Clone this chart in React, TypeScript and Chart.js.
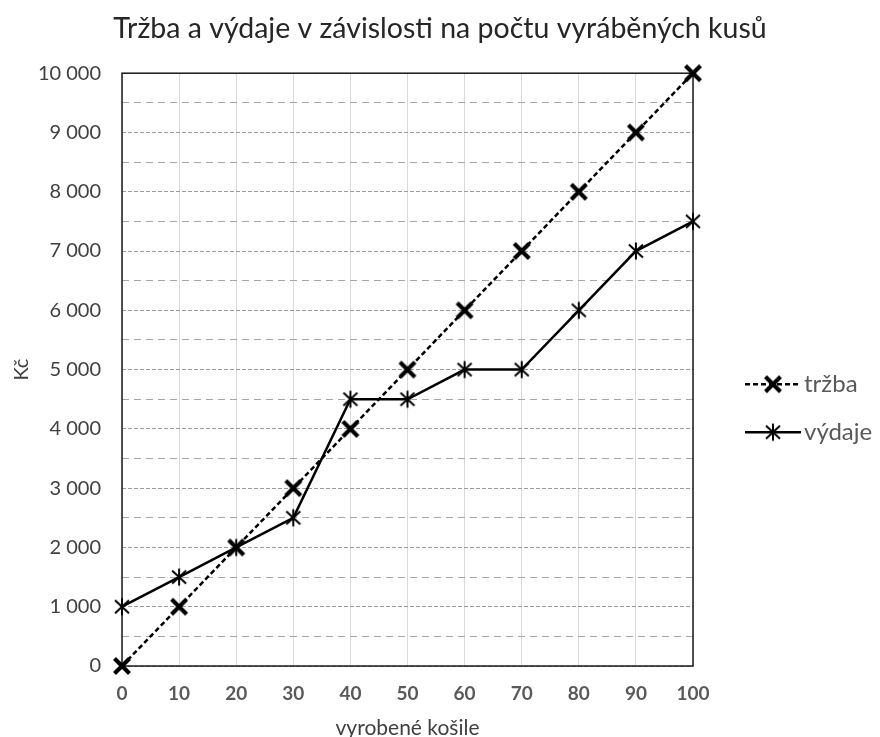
import React, { useEffect, useRef } from "react";
import { Chart, registerables } from "chart.js";

Chart.register(...registerables);

const categories = ["0", "10", "20", "30", "40", "50", "60", "70", "80", "90", "100"];
const trzba = [0, 1000, 2000, 3000, 4000, 5000, 6000, 7000, 8000, 9000, 10000];
const vydaje = [1000, 1500, 2000, 2500, 4500, 4500, 5000, 5000, 6000, 7000, 7500];
const titleText = "Tržba a výdaje v závislosti na počtu vyráběných kusů";
const xTitle = "vyrobené košile";
const yTitle = "Kč";
const seriesNames = ["tržba", "výdaje"];

const FONT = "Lato, 'Open Sans', sans-serif";

function fmt(v: number): string {
  const s = String(Math.round(v));
  return s.replace(/\B(?=(\d{3})+(?!\d))/g, " ");
}

function makeCross(): HTMLCanvasElement {
  const c = document.createElement("canvas");
  c.width = 22;
  c.height = 22;
  const g = c.getContext("2d")!;
  g.strokeStyle = "#000";
  g.lineWidth = 4.2;
  g.beginPath();
  g.moveTo(3.5, 3.5);
  g.lineTo(18.5, 18.5);
  g.moveTo(18.5, 3.5);
  g.lineTo(3.5, 18.5);
  g.stroke();
  return c;
}

function makeStar(): HTMLCanvasElement {
  const c = document.createElement("canvas");
  c.width = 22;
  c.height = 22;
  const g = c.getContext("2d")!;
  g.strokeStyle = "#000";
  g.lineWidth = 2;
  g.beginPath();
  g.moveTo(11, 2.5);
  g.lineTo(11, 19.5);
  g.moveTo(4, 4.5);
  g.lineTo(18, 17.5);
  g.moveTo(18, 4.5);
  g.lineTo(4, 17.5);
  g.stroke();
  return c;
}

const framePlugin = {
  id: "frame",
  beforeDatasetsDraw(chart: any) {
    const { ctx, chartArea } = chart;
    ctx.save();
    ctx.strokeStyle = "#1a1a1a";
    ctx.lineWidth = 1.5;
    ctx.strokeRect(chartArea.left, chartArea.top, chartArea.right - chartArea.left, chartArea.bottom - chartArea.top);
    ctx.restore();
  },
};

const legendPlugin = {
  id: "customLegend",
  afterDraw(chart: any) {
    const { ctx, chartArea } = chart;
    const x0 = chartArea.right + 52;
    const x1 = x0 + 56;
    const ys = [chartArea.top + 311, chartArea.top + 359];
    ctx.save();
    chart.data.datasets.forEach((ds: any, i: number) => {
      const y = ys[i];
      ctx.strokeStyle = "#000";
      ctx.lineWidth = ds.borderWidth;
      ctx.setLineDash(ds.borderDash || []);
      ctx.beginPath();
      ctx.moveTo(x0, y);
      ctx.lineTo(x1, y);
      ctx.stroke();
      ctx.setLineDash([]);
      const img = ds.pointStyle as HTMLCanvasElement;
      ctx.drawImage(img, (x0 + x1) / 2 - img.width / 2, y - img.height / 2);
      ctx.fillStyle = "#595959";
      ctx.font = `24px ${FONT}`;
      ctx.textBaseline = "middle";
      ctx.textAlign = "left";
      ctx.fillText(ds.label, x1 + 3, y);
    });
    ctx.restore();
  },
};

export default function App() {
  const ref = useRef<HTMLCanvasElement | null>(null);

  useEffect(() => {
    if (!ref.current) return;
    const cross = makeCross();
    const star = makeStar();
    const chart = new Chart(ref.current, {
      type: "line",
      data: {
        labels: categories,
        datasets: [
          {
            label: seriesNames[0],
            data: trzba,
            borderColor: "#000",
            borderWidth: 2.5,
            borderDash: [5, 3],
            pointStyle: cross as any,
            pointRadius: 10,
            fill: false,
            tension: 0,
            clip: false as any,
          },
          {
            label: seriesNames[1],
            data: vydaje,
            borderColor: "#000",
            borderWidth: 2.5,
            pointStyle: star as any,
            pointRadius: 10,
            fill: false,
            tension: 0,
            clip: false as any,
          },
        ],
      },
      options: {
        animation: false,
        responsive: false,
        maintainAspectRatio: false,
        layout: { padding: 0 },
        plugins: {
          legend: { display: false },
          tooltip: { enabled: false },
          title: {
            display: true,
            text: titleText,
            color: "#262626",
            font: { family: FONT, size: 28.5, weight: "normal" },
            padding: { top: 12, bottom: 27 },
            align: "center",
          },
        },
        scales: {
          x: {
            type: "category",
            offset: false,
            grid: { color: "#d9d9d9", lineWidth: 1, drawTicks: false },
            border: { display: false },
            ticks: {
              color: "#595959",
              font: { family: FONT, size: 19, weight: "bold" },
              padding: 16,
              maxRotation: 0,
              autoSkip: false,
            },
            title: {
              display: true,
              text: xTitle,
              color: "#404040",
              font: { family: FONT, size: 21 },
              padding: { top: 4, bottom: -4 },
            },
            afterFit(scale: any) {
              scale.height = 71;
            },
          },
          y: {
            type: "linear",
            position: "left",
            min: 0,
            max: 10000,
            grid: { color: "#9a9a9a", lineWidth: 1, drawTicks: false },
            border: { display: false, dash: [4, 2] },
            ticks: {
              stepSize: 1000,
              color: "#404040",
              font: { family: FONT, size: 20 },
              padding: 21,
              callback: (v: any) => fmt(Number(v)),
            },
            title: {
              display: true,
              text: yTitle,
              color: "#404040",
              font: { family: FONT, size: 20 },
              padding: { top: 10, bottom: 0 },
            },
            afterFit(scale: any) {
              scale.width = 122;
            },
          },
          yMinor: {
            type: "linear",
            position: "right",
            min: 0,
            max: 10000,
            grid: {
              color: (c: any) => (c.tick && c.tick.value % 1000 === 500 ? "#a6a6a6" : "rgba(0,0,0,0)"),
              lineWidth: 1,
              drawTicks: false,
            },
            border: { display: false, dash: [7, 5] },
            ticks: { stepSize: 500, display: false },
            afterFit(scale: any) {
              scale.width = 187;
            },
          },
        },
      },
      plugins: [framePlugin, legendPlugin],
    });
    return () => chart.destroy();
  }, []);

  return (
    <div style={{ position: "fixed", left: 0, top: 0, width: 880, height: 737, background: "#fff" }}>
      <canvas ref={ref} width={880} height={737} style={{ display: "block", width: 880, height: 737 }} />
    </div>
  );
}
